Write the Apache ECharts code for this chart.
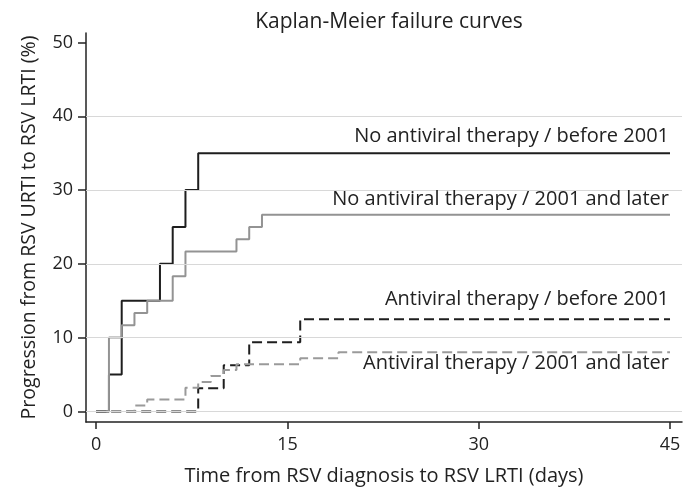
<!DOCTYPE html>
<html>
<head>
<meta charset="utf-8">
<script src="https://cdn.jsdelivr.net/npm/echarts@6/dist/echarts.min.js"></script>
<style>
  html, body { margin: 0; padding: 0; background: #fff; }
  #main { width: 695px; height: 492px; }
</style>
</head>
<body>
<div id="main"></div>
<script>
// days since RSV diagnosis, cumulative % progressing (KM failure)
var noAvBefore = [[0, 0], [1, 5], [2, 15], [5, 20], [6, 25], [7, 30], [8, 35], [45, 35]];
var noAvLater = [[0, 0], [1, 10], [2, 11.67], [3, 13.33], [4, 15], [6, 18.33], [7, 21.67],
    [11, 23.33], [12, 25], [13, 26.67], [45, 26.67]];
var avBefore = [[0, 0], [8, 3.125], [10, 6.25], [12, 9.375], [16, 12.5], [45, 12.5]];
var avLater = [[0, 0], [3, 0.8], [4, 1.6], [7, 3.2], [8, 4.0], [9, 4.8], [10, 5.6], [11, 6.4],
    [16, 7.2], [19, 8.0], [45, 8.0]];

var seriesNames = [
    'No antiviral therapy / before 2001',
    'No antiviral therapy / 2001 and later',
    'Antiviral therapy / before 2001',
    'Antiviral therapy / 2001 and later'
];
var xTicks = [0, 15, 30, 45];
var yTicks = [0, 10, 20, 30, 40, 50];
var gridValues = [0, 10, 20, 30, 40];

var FONT = 'Open Sans';
var TXT = '#222';

var chart = echarts.init(document.getElementById('main'));

function endLabel(data, dy) {
    var last = data[data.length - 1];
    return {
        symbolSize: 0,
        silent: true,
        label: {
            show: true,
            position: [0, 0],
            offset: [-1, dy],
            align: 'right',
            verticalAlign: 'middle',
            fontFamily: FONT,
            fontSize: 20,
            color: TXT,
            formatter: '{b}'
        },
        data: [{ coord: last, value: last[1] }]
    };
}

function kmSeries(idx, data, color, dashed, dy) {
    var mp = endLabel(data, dy);
    mp.data[0].name = seriesNames[idx];
    return {
        name: seriesNames[idx],
        type: 'line',
        step: 'end',
        showSymbol: false,
        z: 3,
        lineStyle: { color: color, width: 2, type: dashed ? [10, 5] : 'solid' },
        data: data,
        markPoint: mp
    };
}

var option = {
    animation: false,
    backgroundColor: '#fff',
    title: {
        text: 'Kaplan-Meier failure curves',
        left: 384,
        textAlign: 'center',
        top: 7,
        textStyle: { fontFamily: FONT, fontSize: 21, fontWeight: 'normal', color: TXT }
    },
    grid: { left: 86, right: 13, top: 33, bottom: 70 },
    xAxis: {
        type: 'value',
        min: -0.8,
        max: 45.94,
        name: 'Time from RSV diagnosis to RSV LRTI (days)',
        nameLocation: 'middle',
        nameGap: 44,
        nameTextStyle: { fontFamily: FONT, fontSize: 20, color: TXT },
        axisLine: { show: true, onZero: false, lineStyle: { color: '#222', width: 1.5 } },
        axisTick: { show: true, length: 7, customValues: xTicks, lineStyle: { color: '#222', width: 1.5 } },
        axisLabel: { customValues: xTicks, margin: 14, fontFamily: FONT, fontSize: 18, color: TXT },
        splitLine: { show: false }
    },
    yAxis: {
        type: 'value',
        min: -1.44,
        max: 51.3,
        name: 'Progression from RSV URTI to RSV LRTI (%)',
        nameLocation: 'middle',
        nameGap: 47,
        nameTextStyle: { fontFamily: FONT, fontSize: 19.5, color: TXT },
        axisLine: { show: true, onZero: false, lineStyle: { color: '#222', width: 1.5 } },
        axisTick: { show: true, length: 8, customValues: yTicks, lineStyle: { color: '#222', width: 1.5 } },
        axisLabel: { customValues: yTicks, margin: 13, fontFamily: FONT, fontSize: 18, color: TXT },
        splitLine: { show: false }
    },
    series: [
        {
            name: 'grid',
            type: 'line',
            data: [],
            z: 1,
            markLine: {
                silent: true,
                symbol: 'none',
                label: { show: false },
                lineStyle: { color: '#d8d8d8', type: 'solid', width: 1 },
                data: gridValues.map(function (v) { return { yAxis: v }; })
            }
        },
        kmSeries(0, noAvBefore, '#1e1e1e', false, -17),
        kmSeries(1, noAvLater, '#939393', false, -15),
        kmSeries(2, avBefore, '#1e1e1e', true, -19.5),
        kmSeries(3, avLater, '#9a9a9a', true, 11)
    ]
};
chart.setOption(option);
</script>
</body>
</html>
